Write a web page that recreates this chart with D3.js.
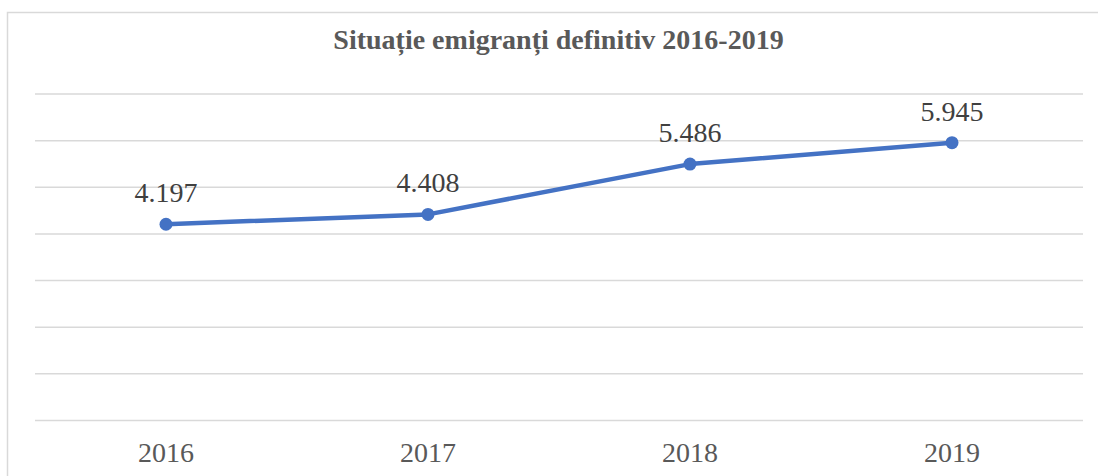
<!DOCTYPE html>
<html>
<head>
<meta charset="utf-8">
<script src="https://cdn.jsdelivr.net/npm/d3@7"></script>
<style>
  body { margin: 0; background: #fff; }
  svg { display: block; }
  text { font-family: 'Liberation Serif', 'Times New Roman', serif; }
</style>
</head>
<body>
<svg id="chart"></svg>
<script>
// chart data
var years = ["2016", "2017", "2018", "2019"]
var emigrants = [4197, 4408, 5486, 5945]
var valueLabels = ["4.197", "4.408", "5.486", "5.945"]
var yTicks = [0, 1000, 2000, 3000, 4000, 5000, 6000, 7000]
var title = "Situație emigranți definitiv 2016-2019"

var vis = {
  "width": 1098,
  "height": 476,
  "plot": { "left": 35, "right": 1083, "top": 93.5, "bottom": 420 },
  "color": "#4472C4",
  "font": "'Liberation Serif', 'Times New Roman', serif"
}

function main() {
  var svg = d3.select("#chart")
    .attr("width", vis.width)
    .attr("height", vis.height)

  // outer chart border
  svg.append("rect")
    .attr("x", 7.5)
    .attr("y", 12.5)
    .attr("width", 1100)
    .attr("height", 500)
    .attr("fill", "none")
    .attr("stroke", "#d9d9d9")
    .attr("stroke-width", 1.5)

  var xScale = d3.scaleBand()
    .domain(years)
    .range([vis.plot.left, vis.plot.right])

  var yScale = d3.scaleLinear()
    .domain([0, 7000])
    .range([vis.plot.bottom, vis.plot.top])

  // grid lines
  svg.append("g")
    .attr("transform", "translate(" + vis.plot.left + ",0)")
    .call(d3.axisLeft(yScale).tickValues(yTicks).tickSize(-(vis.plot.right - vis.plot.left)).tickFormat(""))
    .call(function(g) { g.select(".domain").remove() })
    .selectAll(".tick line")
    .attr("stroke", "#d9d9d9")
    .attr("stroke-width", 1.5)

  // category axis
  var xAxis = svg.append("g")
    .attr("transform", "translate(0," + vis.plot.bottom + ")")
    .call(d3.axisBottom(xScale).tickSize(0).tickPadding(0))
    .attr("font-family", vis.font)
    .attr("font-size", 28)
  xAxis.select(".domain").remove()
  xAxis.selectAll("text")
    .attr("dy", null)
    .attr("y", 42)
    .attr("fill", "#595959")

  var cx = function(d, i) { return xScale(years[i]) + xScale.bandwidth() / 2 }

  var line = d3.line()
    .x(cx)
    .y(function(d) { return yScale(d) })

  svg.append("path")
    .datum(emigrants)
    .attr("d", line)
    .attr("fill", "none")
    .attr("stroke", vis.color)
    .attr("stroke-width", 4.5)
    .attr("stroke-linejoin", "round")

  svg.selectAll("circle.pt")
    .data(emigrants)
    .enter()
    .append("circle")
    .attr("class", "pt")
    .attr("cx", cx)
    .attr("cy", function(d) { return yScale(d) })
    .attr("r", 6.5)
    .attr("fill", vis.color)

  svg.selectAll("text.val")
    .data(emigrants)
    .enter()
    .append("text")
    .attr("class", "val")
    .attr("x", cx)
    .attr("y", function(d) { return yScale(d) - 22 })
    .attr("text-anchor", "middle")
    .attr("font-family", vis.font)
    .attr("font-size", 28)
    .attr("fill", "#404040")
    .text(function(d, i) { return valueLabels[i] })

  svg.append("text")
    .attr("x", 558.5)
    .attr("y", 49)
    .attr("text-anchor", "middle")
    .attr("font-family", vis.font)
    .attr("font-size", 28)
    .attr("font-weight", "bold")
    .attr("fill", "#595959")
    .text(title)
}

main()
</script>
</body>
</html>
